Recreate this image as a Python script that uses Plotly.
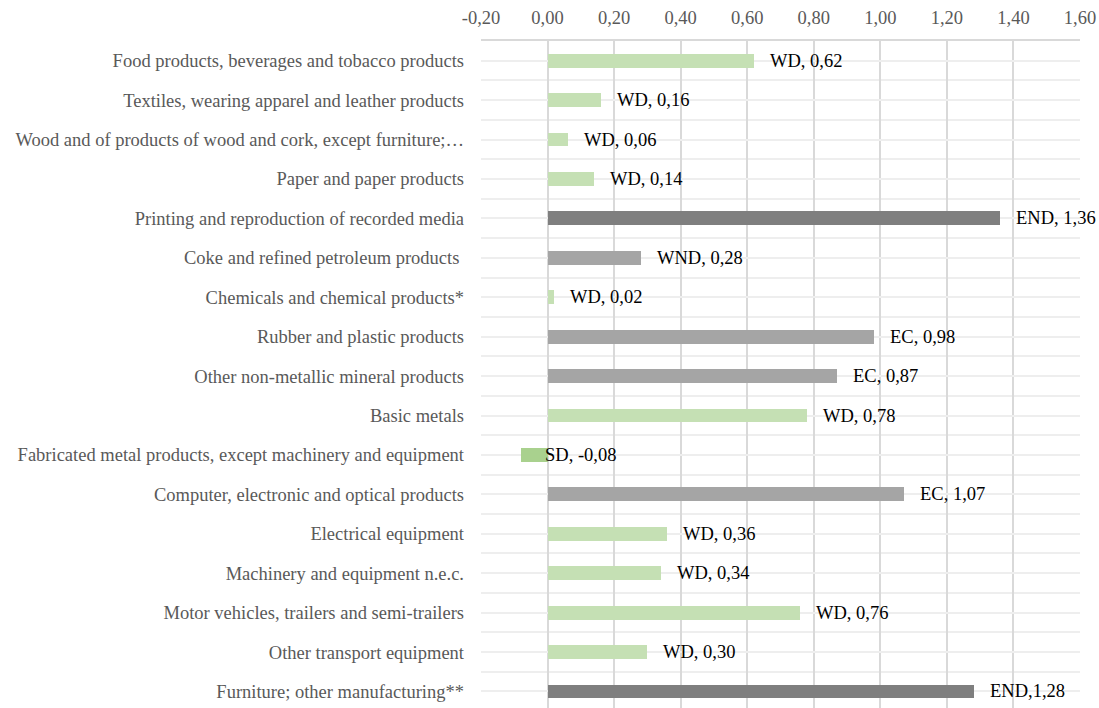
import plotly.graph_objects as go

# Manufacturing branches, top to bottom
categories = [
    "Food products, beverages and tobacco products",
    "Textiles, wearing apparel and leather products",
    "Wood and of products of wood and cork, except furniture;\u2026",
    "Paper and paper products",
    "Printing and reproduction of recorded media",
    "Coke and refined petroleum products ",
    "Chemicals and chemical products*",
    "Rubber and plastic products",
    "Other non-metallic mineral products",
    "Basic metals",
    "Fabricated metal products, except machinery and equipment",
    "Computer, electronic and optical products",
    "Electrical equipment",
    "Machinery and equipment n.e.c.",
    "Motor vehicles, trailers and semi-trailers",
    "Other transport equipment",
    "Furniture; other manufacturing**",
]
values = [0.62, 0.16, 0.06, 0.14, 1.36, 0.28, 0.02, 0.98, 0.87, 0.78,
          -0.08, 1.07, 0.36, 0.34, 0.76, 0.30, 1.28]
classes = ["WD", "WD", "WD", "WD", "END", "WND", "WD", "EC", "EC", "WD",
           "SD", "EC", "WD", "WD", "WD", "WD", "END"]
label_sep = [", "] * 16 + [","]
x_ticks = [-0.2, 0.0, 0.2, 0.4, 0.6, 0.8, 1.0, 1.2, 1.4, 1.6]
x_tick_labels = ["-0,20", "0,00", "0,20", "0,40", "0,60", "0,80",
                 "1,00", "1,20", "1,40", "1,60"]

class_colors = {
    "WD": "#c5e0b4",
    "SD": "#a9d18e",
    "WND": "#a5a5a5",
    "EC": "#a5a5a5",
    "END": "#7f7f7f",
}

positions = list(range(len(categories)))
serif = "Liberation Serif, Times New Roman, serif"

fig = go.Figure(
    go.Bar(
        x=values,
        y=positions,
        orientation="h",
        width=0.35,
        marker=dict(color=[class_colors[c] for c in classes], line=dict(width=0)),
        hoverinfo="skip",
    )
)

def fmt(v):
    return f"{v:.2f}".replace(".", ",")

for pos, v, c, sep in zip(positions, values, classes, label_sep):
    fig.add_annotation(
        x=max(v, 0.0),
        y=pos,
        xref="x",
        yref="y",
        text=f"{c}{sep}{fmt(v)}",
        showarrow=False,
        xanchor="left",
        yanchor="middle",
        xshift=14 if v > 0 else -5,
        font=dict(family=serif, size=18.5, color="#000000"),
    )

grid_color = "#d9d9d9"

fig.update_layout(
    width=1099,
    height=708,
    margin=dict(l=481, r=19, t=41, b=0),
    paper_bgcolor="white",
    plot_bgcolor="white",
    showlegend=False,
    bargap=0,
    xaxis=dict(
        side="top",
        range=[-0.2, 1.6],
        tickvals=x_ticks,
        ticktext=x_tick_labels,
        showgrid=True,
        gridcolor=grid_color,
        gridwidth=1.5,
        zeroline=False,
        showline=True,
        linecolor=grid_color,
        linewidth=1.5,
        ticks="",
        ticklabelstandoff=8,
        tickfont=dict(family=serif, size=18.5, color="#595959"),
        fixedrange=True,
    ),
    yaxis=dict(
        range=[16.42, -0.5],
        tickvals=positions,
        ticktext=categories,
        showgrid=True,
        gridcolor="#eeeeee",
        gridwidth=1.5,
        zeroline=False,
        showline=False,
        ticks="",
        ticklabelstandoff=16,
        minor=dict(
            tick0=0.5,
            dtick=1,
            showgrid=True,
            gridcolor="#eeeeee",
            gridwidth=1.5,
            ticks="",
        ),
        tickfont=dict(family=serif, size=18.5, color="#595959"),
        fixedrange=True,
    ),
)

fig.write_html("out.html")
